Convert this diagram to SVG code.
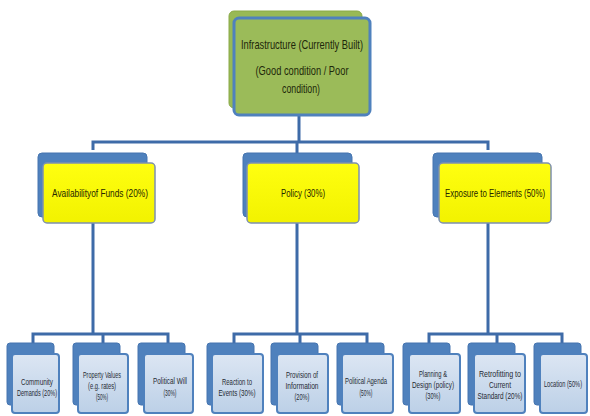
<svg xmlns="http://www.w3.org/2000/svg" width="590" height="416" viewBox="0 0 590 416">
<defs>
<linearGradient id="gb" x1="0" y1="0" x2="0" y2="1"><stop offset="0" stop-color="#DCE6F3"/><stop offset="1" stop-color="#BCD0E7"/></linearGradient>
<linearGradient id="gy" x1="0" y1="0" x2="0" y2="1"><stop offset="0" stop-color="#FFFF10"/><stop offset="1" stop-color="#F2F200"/></linearGradient>
</defs>
<style>
.bk-g{fill:#98B955;stroke:#8AAA48;stroke-width:1}
.fr-g{fill:#9BBB59;stroke:#4F81BD;stroke-width:3}
.bk-b{fill:#4F81BD;stroke:#4675B0;stroke-width:1}
.fr-y{fill:url(#gy);stroke:#7D90B0;stroke-width:1.5}
.fr-l{fill:url(#gb);stroke:#4F81BD;stroke-width:2}
.t1{font-family:"Liberation Sans",Arial,sans-serif;font-size:13px;fill:#1E280A;text-anchor:middle}
.t2{font-family:"Liberation Sans",Arial,sans-serif;font-size:11px;fill:#262600;text-anchor:middle}
.t3{font-family:"Liberation Sans",Arial,sans-serif;font-size:9px;fill:#252A33;text-anchor:middle}
.c{fill:none;stroke:#3E6BA8;stroke-width:3}
</style>
<rect width="590" height="416" fill="#FFFFFF"/>
<g id="connectors">
<path class="c" d="M299,115 V142 M93,150 V142 H488 V150 M297,142 V163"/>
<path class="c" d="M93,222 V334 M33,343 V334 H168 V343 M103,334 V354"/>
<path class="c" d="M297,222 V334 M234,343 V334 H367 V343 M300,334 V354"/>
<path class="c" d="M488,222 V334 M429,343 V334 H562 V343 M497,334 V354"/>
</g>
<g id="n-infra">
<rect class="bk-g" x="229" y="11" width="133" height="97" rx="5"/>
<rect class="fr-g" x="234" y="18" width="136" height="97" rx="5"/>
<text class="t1" x="302" y="49" textLength="122" lengthAdjust="spacingAndGlyphs">Infrastructure (Currently Built)</text>
<text class="t1" x="302" y="75" textLength="93" lengthAdjust="spacingAndGlyphs">(Good condition / Poor</text>
<text class="t1" x="301" y="93" textLength="38" lengthAdjust="spacingAndGlyphs">condition)</text>
</g>
<g id="n-funds">
<rect class="bk-b" x="38" y="153" width="109" height="64" rx="4"/>
<rect class="fr-y" x="43" y="163" width="112" height="60" rx="4"/>
<text class="t2" x="100" y="197" textLength="96" lengthAdjust="spacingAndGlyphs">Availabilityof Funds (20%)</text>
</g>
<g id="n-policy">
<rect class="bk-b" x="243" y="153" width="109" height="64" rx="4"/>
<rect class="fr-y" x="247" y="163" width="112" height="60" rx="4"/>
<text class="t2" x="303" y="197" textLength="44" lengthAdjust="spacingAndGlyphs">Policy (30%)</text>
</g>
<g id="n-exposure">
<rect class="bk-b" x="433" y="153" width="109" height="64" rx="4"/>
<rect class="fr-y" x="439" y="163" width="112" height="60" rx="4"/>
<text class="t2" x="495" y="197" textLength="100" lengthAdjust="spacingAndGlyphs">Exposure to Elements (50%)</text>
</g>
<g id="n-community">
<rect class="bk-b" x="7" y="343" width="47" height="62" rx="3"/>
<rect class="fr-l" x="12" y="354" width="47" height="59" rx="3"/>
<text class="t3" x="37" y="385" textLength="32" lengthAdjust="spacingAndGlyphs">Community</text>
<text class="t3" x="37" y="396" textLength="40" lengthAdjust="spacingAndGlyphs">Demands (20%)</text>
</g>
<g id="n-property">
<rect class="bk-b" x="73" y="343" width="47" height="62" rx="3"/>
<rect class="fr-l" x="78" y="354" width="50" height="59" rx="3"/>
<text class="t3" x="102" y="378" textLength="38" lengthAdjust="spacingAndGlyphs">Property Values</text>
<text class="t3" x="102" y="389" textLength="28" lengthAdjust="spacingAndGlyphs">(e.g. rates)</text>
<text class="t3" x="102" y="400" textLength="12" lengthAdjust="spacingAndGlyphs">(50%)</text>
</g>
<g id="n-will">
<rect class="bk-b" x="138" y="343" width="47" height="62" rx="3"/>
<rect class="fr-l" x="144" y="354" width="49" height="59" rx="3"/>
<text class="t3" x="170" y="384" textLength="34" lengthAdjust="spacingAndGlyphs">Political Will</text>
<text class="t3" x="170" y="396" textLength="13" lengthAdjust="spacingAndGlyphs">(30%)</text>
</g>
<g id="n-reaction">
<rect class="bk-b" x="207" y="343" width="47" height="62" rx="3"/>
<rect class="fr-l" x="212" y="354" width="51" height="59" rx="3"/>
<text class="t3" x="237" y="385" textLength="30" lengthAdjust="spacingAndGlyphs">Reaction to</text>
<text class="t3" x="237" y="396" textLength="37" lengthAdjust="spacingAndGlyphs">Events (30%)</text>
</g>
<g id="n-provision">
<rect class="bk-b" x="271" y="343" width="47" height="62" rx="3"/>
<rect class="fr-l" x="277" y="354" width="51" height="59" rx="3"/>
<text class="t3" x="302" y="378" textLength="32" lengthAdjust="spacingAndGlyphs">Provision of</text>
<text class="t3" x="302" y="389" textLength="33" lengthAdjust="spacingAndGlyphs">Information</text>
<text class="t3" x="302" y="400" textLength="15" lengthAdjust="spacingAndGlyphs">(20%)</text>
</g>
<g id="n-agenda">
<rect class="bk-b" x="337" y="343" width="47" height="62" rx="3"/>
<rect class="fr-l" x="342" y="354" width="51" height="59" rx="3"/>
<text class="t3" x="366" y="384" textLength="42" lengthAdjust="spacingAndGlyphs">Political Agenda</text>
<text class="t3" x="366" y="396" textLength="13" lengthAdjust="spacingAndGlyphs">(50%)</text>
</g>
<g id="n-planning">
<rect class="bk-b" x="403" y="343" width="47" height="62" rx="3"/>
<rect class="fr-l" x="409" y="354" width="51" height="59" rx="3"/>
<text class="t3" x="433" y="377" textLength="28" lengthAdjust="spacingAndGlyphs">Planning &amp;</text>
<text class="t3" x="433" y="388" textLength="42" lengthAdjust="spacingAndGlyphs">Design (policy)</text>
<text class="t3" x="433" y="399" textLength="15" lengthAdjust="spacingAndGlyphs">(30%)</text>
</g>
<g id="n-retrofit">
<rect class="bk-b" x="468" y="343" width="47" height="62" rx="3"/>
<rect class="fr-l" x="474" y="354" width="51" height="59" rx="3"/>
<text class="t3" x="500" y="377" textLength="42" lengthAdjust="spacingAndGlyphs">Retrofitting to</text>
<text class="t3" x="500" y="388" textLength="22" lengthAdjust="spacingAndGlyphs">Current</text>
<text class="t3" x="500" y="399" textLength="45" lengthAdjust="spacingAndGlyphs">Standard (20%)</text>
</g>
<g id="n-location">
<rect class="bk-b" x="534" y="343" width="47" height="62" rx="3"/>
<rect class="fr-l" x="540" y="354" width="47" height="59" rx="3"/>
<text class="t3" transform="translate(563,387) scale(0.63,1)" x="0" y="0">Location (50%)</text>
</g>
</svg>
